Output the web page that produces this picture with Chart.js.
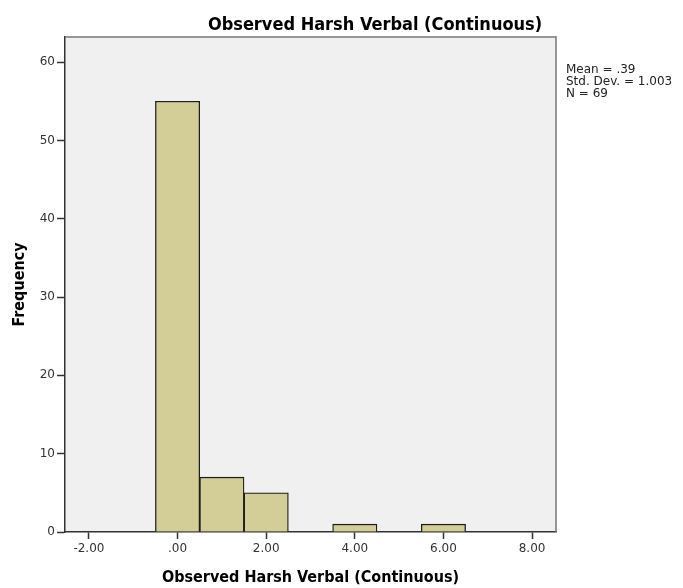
<!DOCTYPE html>
<html>
<head>
<meta charset="utf-8">
<script src="https://cdn.jsdelivr.net/npm/chart.js@4.4.1/dist/chart.umd.min.js"></script>
<style>
  html, body { margin: 0; padding: 0; background: #fff; }
</style>
</head>
<body>
<canvas id="myChart" width="683" height="588"></canvas>
<script>
// histogram bins (centre of each bin) and counts
var binCenters = [0, 1, 2, 4, 6];
var frequencies = [55, 7, 5, 1, 1];
var xTicks = [-2, 0, 2, 4, 6, 8];
var yTicks = [0, 10, 20, 30, 40, 50, 60];
var statLines = ['Mean = .39', 'Std. Dev. = 1.003', 'N = 69'];
var chartTitle = 'Observed Harsh Verbal (Continuous)';
var xTitle = 'Observed Harsh Verbal (Continuous)';
var yTitle = 'Frequency';

var points = binCenters.map(function (c, i) { return { x: c, y: frequencies[i] }; });

function fmtTick(v) {
  var s = Number(v).toFixed(2);
  if (s.indexOf('0.') === 0) s = s.substring(1);
  return s;
}

// grey plot background + frame, title and summary text
var spssLook = {
  id: 'spssLook',
  beforeDraw: function (chart) {
    var a = chart.chartArea, ctx = chart.ctx;
    ctx.save();
    ctx.fillStyle = '#f0f0f0';
    ctx.fillRect(a.left, a.top, a.right - a.left, a.bottom - a.top);
    ctx.restore();
  },
  afterDraw: function (chart) {
    var a = chart.chartArea, ctx = chart.ctx;
    ctx.save();
    ctx.strokeStyle = '#777';
    ctx.lineWidth = 1.5;
    ctx.beginPath();
    ctx.moveTo(a.left, a.top);
    ctx.lineTo(a.right, a.top);
    ctx.lineTo(a.right, a.bottom);
    ctx.stroke();

    ctx.fillStyle = '#000';
    ctx.font = 'bold 18px "DejaVu Sans Condensed", "DejaVu Sans", sans-serif';
    ctx.textAlign = 'center';
    ctx.textBaseline = 'alphabetic';
    ctx.fillText(chartTitle, 375, 30);

    ctx.fillStyle = '#222';
    ctx.font = '12px "DejaVu Sans", sans-serif';
    ctx.textAlign = 'left';
    statLines.forEach(function (t, i) {
      ctx.fillText(t, 566, 73 + i * 12);
    });
    ctx.restore();
  }
};

var ctx = document.getElementById('myChart');

var myChart = new Chart(ctx, {
  type: 'bar',
  data: {
    datasets: [{
      data: points,
      backgroundColor: 'rgb(211, 206, 151)',
      borderColor: '#1e1e1e',
      borderWidth: 1.3,
      barPercentage: 1,
      categoryPercentage: 1
    }]
  },
  options: {
    responsive: false,
    animation: false,
    devicePixelRatio: 1,
    layout: { padding: { top: 37, right: 127, left: 0, bottom: 0 } },
    plugins: {
      legend: { display: false },
      tooltip: { enabled: false }
    },
    scales: {
      x: {
        type: 'linear',
        offset: false,
        min: -2.54,
        max: 8.54,
        afterBuildTicks: function (scale) {
          scale.ticks = xTicks.map(function (v) { return { value: v }; });
        },
        afterFit: function (scale) { scale.height = 56; },
        grid: { offset: false, drawOnChartArea: false, drawTicks: true, tickLength: 7, tickWidth: 1.5, color: '#333' },
        border: { display: true, color: '#333', width: 1.5 },
        ticks: {
          color: '#333',
          padding: 3,
          maxRotation: 0,
          font: { family: '"DejaVu Sans", sans-serif', size: 12 },
          callback: function (v) { return fmtTick(v); }
        },
        title: {
          display: true,
          text: xTitle,
          color: '#000',
          font: { family: '"DejaVu Sans Condensed", "DejaVu Sans", sans-serif', size: 16, weight: 'bold' },
          padding: { top: 0, bottom: 1 }
        }
      },
      y: {
        min: 0,
        max: 63.2,
        afterBuildTicks: function (scale) {
          scale.ticks = yTicks.map(function (v) { return { value: v }; });
        },
        afterFit: function (scale) { scale.width = 65; },
        grid: { drawOnChartArea: false, drawTicks: true, tickLength: 8, tickWidth: 1.5, color: '#333' },
        border: { display: true, color: '#333', width: 1.5 },
        ticks: {
          color: '#333',
          padding: 2,
          font: { family: '"DejaVu Sans", sans-serif', size: 12 }
        },
        title: {
          display: true,
          text: yTitle,
          color: '#000',
          font: { family: '"DejaVu Sans Condensed", "DejaVu Sans", sans-serif', size: 16, weight: 'bold' },
          padding: { top: 10, bottom: 0 }
        }
      }
    }
  },
  plugins: [spssLook]
});
</script>
</body>
</html>
